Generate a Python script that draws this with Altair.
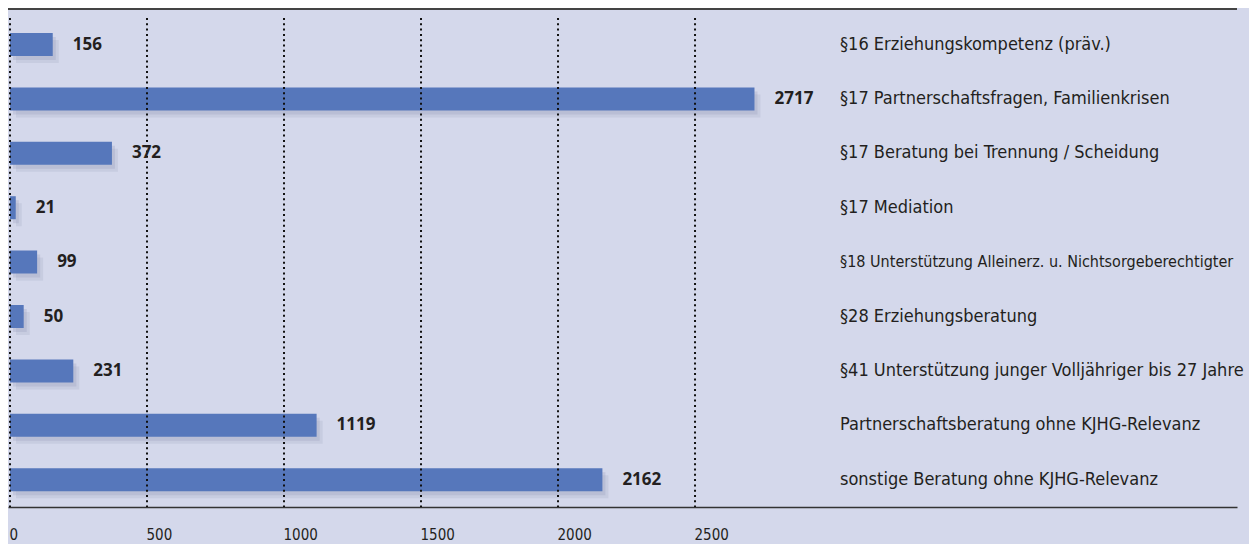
import altair as alt
import pandas as pd

categories = [
    "§16 Erziehungskompetenz (präv.)",
    "§17 Partnerschaftsfragen, Familienkrisen",
    "§17 Beratung bei Trennung / Scheidung",
    "§17 Mediation",
    "§18 Unterstützung Alleinerz. u. Nichtsorgeberechtigter",
    "§28 Erziehungsberatung",
    "§41 Unterstützung junger Volljähriger bis 27 Jahre",
    "Partnerschaftsberatung ohne KJHG-Relevanz",
    "sonstige Beratung ohne KJHG-Relevanz",
]
values = [156, 2717, 372, 21, 99, 50, 231, 1119, 2162]
ticks = [0, 500, 1000, 1500, 2000, 2500]

df = pd.DataFrame({"cat": categories, "value": values})
grid_df = pd.DataFrame({"tick": ticks})

BG = "#d4d8eb"
BAR = "#5677bb"
TXT = "#231f20"
COND = "'Liberation Sans Narrow', 'DejaVu Sans Condensed', 'Roboto Condensed', Roboto, sans-serif"

W, H = 1229, 499

xscale = alt.Scale(domain=[-7.3, 4478], nice=False, zero=False)
yscale = alt.Scale(domain=categories, paddingInner=0.577, paddingOuter=0.375, align=0.613)

x_axis = alt.Axis(
    values=ticks, title=None, grid=False, ticks=False, domain=True, format="d",
    domainColor="#333333", domainWidth=1.5, labelAlign="left",
    labelBaseline="middle", labelPadding=27, labelOffset=-1,
    labelFont=COND, labelFontSize=15, labelColor=TXT,
)

X = alt.X("value:Q", scale=xscale, axis=x_axis)
Y = alt.Y("cat:N", scale=yscale, axis=None)

base = alt.Chart(df)

grid = alt.Chart(grid_df).mark_rule(
    color="#111111", strokeWidth=2, strokeDash=[2, 3.3]
).encode(
    x=alt.X("tick:Q", scale=xscale, axis=x_axis),
    y=alt.value(10),
    y2=alt.value(H),
)

top_line = alt.Chart(grid_df).mark_rule(color="#444444", strokeWidth=2).encode(
    x=alt.value(0), x2=alt.value(W), y=alt.value(1)
)

shadow1 = base.mark_bar(color="#8f95b3", opacity=0.18, xOffset=6, yOffset=7).encode(x=X, y=Y)
shadow2 = base.mark_bar(color="#8f95b3", opacity=0.25, xOffset=3, yOffset=4).encode(x=X, y=Y)
bars = base.mark_bar(color=BAR).encode(x=X, y=Y)

value_labels = base.mark_text(
    align="left", baseline="middle", dx=20, font="'Open Sans'", fontSize=17,
    fontWeight="bold", color=TXT,
).encode(x=X, y=Y, text="value:Q")

cat_labels = base.mark_text(
    align="left", baseline="middle", font=COND, color=TXT,
).encode(
    x=alt.value(832),
    y=Y,
    text="cat:N",
    size=alt.condition(
        alt.datum.cat == categories[4], alt.value(16), alt.value(18)
    ),
)

chart = alt.layer(
    shadow1, shadow2, bars, grid, top_line, value_labels, cat_labels
).properties(
    width=W, height=H,
    autosize=alt.AutoSizeParams(type="none"),
    padding={"left": 0, "top": 0, "right": 12, "bottom": 37},
    background=BG,
).configure_view(stroke=None)

chart.save("out.html", embed_options={"renderer": "svg", "actions": False})
